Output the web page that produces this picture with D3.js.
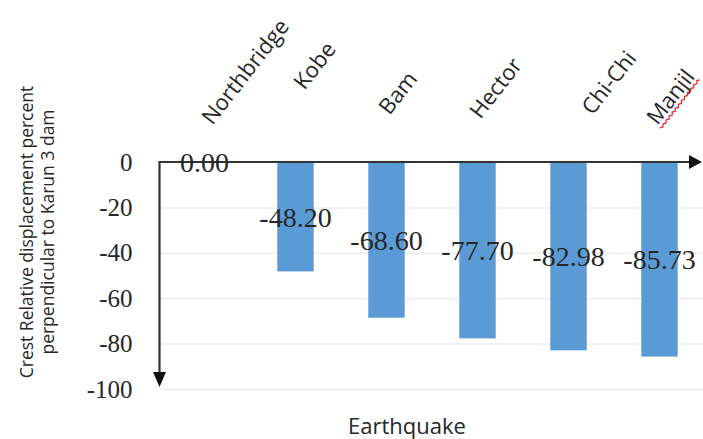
<!DOCTYPE html>
<html>
<head>
<meta charset="utf-8">
<script src="https://cdn.jsdelivr.net/npm/d3@7"></script>
<style>
  body { margin: 0; background: #fff; }
  svg { display: block; }
</style>
</head>
<body>
<svg id="chart" width="703" height="439"></svg>
<script>
// Crest relative displacement for each earthquake record
const earthquakes = ["Northbridge", "Kobe", "Bam", "Hector", "Chi-Chi", "Manjil"];
const crestDisplacement = [0.00, -48.20, -68.60, -77.70, -82.98, -85.73];
const yTicks = [0, -20, -40, -60, -80, -100];
const yTitleLines = ["Crest Relative displacement percent", "perpendicular to Karun 3 dam"];
const xTitle = "Earthquake";

// hand nudges for the slanted category names (dx, dy)
const nameNudge = [[8, 4], [9, -31], [3, -6], [3, -2], [24, -6], [-2, 4]];

const svg = d3.select("#chart");
const ink = "#262626";

// plain hyphen for negative numbers
const fmt = d3.formatLocale({
  decimal: ".", thousands: ",", grouping: [3], currency: ["", ""], minus: "-"
}).format;

const x = d3.scaleBand()
  .domain(earthquakes)
  .range([159, 705])
  .paddingInner(0.6)
  .paddingOuter(0.3);

const y = d3.scaleLinear()
  .domain([0, -100])
  .range([162, 389]);

// horizontal gridlines
const grid = svg.append("g")
  .attr("transform", "translate(160,0)")
  .call(d3.axisLeft(y).tickValues(yTicks.slice(1)).tickSize(-543).tickFormat(""));
grid.select(".domain").remove();
grid.selectAll("line").attr("stroke", "#ececec").attr("stroke-width", 1.5);

// value tick labels
const yAxis = svg.append("g")
  .attr("transform", "translate(159.5,0)")
  .call(d3.axisLeft(y).tickValues(yTicks).tickSize(0).tickPadding(27).tickFormat(fmt("d")));
yAxis.select(".domain").remove();
yAxis.selectAll("text")
  .attr("font-family", "'Liberation Serif', 'Times New Roman', serif")
  .attr("font-size", 25)
  .attr("fill", ink);

// bars
const rows = earthquakes.map((name, i) => ({ name, value: crestDisplacement[i], i }));
svg.append("g").selectAll("rect").data(rows).join("rect")
  .attr("x", d => x(d.name))
  .attr("y", y(0))
  .attr("width", x.bandwidth())
  .attr("height", d => y(d.value) - y(0))
  .attr("fill", "#5b9bd5");

// axis lines with arrowheads
const x0 = 159.5, yTop = y(0), yEnd = y(-100) - 2, xEnd = 702;
svg.append("path")
  .attr("d", `M${x0},${yEnd - 12}V${yTop}H${xEnd - 12}`)
  .attr("fill", "none").attr("stroke", "#333").attr("stroke-width", 2.2);
svg.append("path")
  .attr("d", `M${x0 - 6.5},${yEnd - 15}L${x0 + 6.5},${yEnd - 15}L${x0},${yEnd}Z`)
  .attr("fill", "#111");
svg.append("path")
  .attr("d", `M${xEnd - 13},${yTop - 7}L${xEnd - 13},${yTop + 7}L${xEnd},${yTop}Z`)
  .attr("fill", "#111");

// value labels centred on each bar
svg.append("g").selectAll("text").data(rows).join("text")
  .attr("x", d => x(d.name) + x.bandwidth() / 2)
  .attr("y", d => (y(0) + y(d.value)) / 2)
  .attr("dy", "0.35em")
  .attr("text-anchor", "middle")
  .attr("font-family", "'Liberation Serif', 'Times New Roman', serif")
  .attr("font-size", 28)
  .attr("fill", ink)
  .text(d => fmt(".2f")(d.value));

// slanted category names above the plot
const names = svg.append("g").selectAll("g").data(rows).join("g")
  .attr("transform", d => `translate(${x(d.name) + x.bandwidth() / 2 + nameNudge[d.i][0]},${122 + nameNudge[d.i][1]}) rotate(-52)`);
names.append("text")
  .attr("font-family", "'Open Sans', sans-serif")
  .attr("font-size", 22)
  .attr("fill", ink)
  .text(d => d.name);

// spell-check squiggle under the last name
names.filter(d => d.name === "Manjil").each(function () {
  const g = d3.select(this);
  const w = g.select("text").node().getComputedTextLength();
  const pts = [];
  for (let s = 0, k = 0; s <= w + 2; s += 2.5, k++) pts.push([s, 3 + (k % 2 ? 2 : 0)]);
  g.append("path")
    .attr("d", d3.line()(pts))
    .attr("fill", "none").attr("stroke", "#e8202a").attr("stroke-width", 1.2);
});

// axis titles
svg.append("text")
  .attr("transform", "translate(33,232) rotate(-90)")
  .attr("text-anchor", "middle")
  .attr("font-family", "'Open Sans', sans-serif")
  .attr("font-size", 17.5)
  .attr("fill", ink)
  .selectAll("tspan").data(yTitleLines).join("tspan")
  .attr("x", 0)
  .attr("dy", (d, i) => i ? 21 : 0)
  .text(d => d);

svg.append("text")
  .attr("x", 407).attr("y", 434)
  .attr("text-anchor", "middle")
  .attr("font-family", "'Open Sans', sans-serif")
  .attr("font-size", 22)
  .attr("fill", ink)
  .text(xTitle);
</script>
</body>
</html>
